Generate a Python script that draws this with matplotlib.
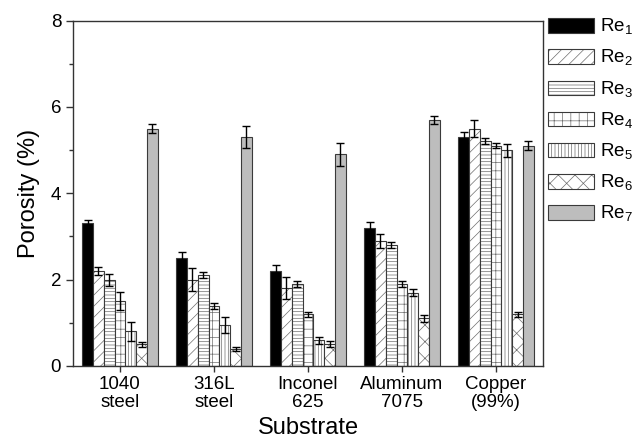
import matplotlib
matplotlib.use('Agg')
import matplotlib.pyplot as plt
from matplotlib.colors import to_rgba
import numpy as np

plt.rcParams['font.family'] = ['Liberation Sans', 'DejaVu Sans']
plt.rcParams['hatch.linewidth'] = 0.5

# Пористость по подложкам
substrates = ['1040\nsteel', '316L\nsteel', 'Inconel\n625', 'Aluminum\n7075', 'Copper\n(99%)']
series = ['Re$_\\mathregular{1}$', 'Re$_\\mathregular{2}$', 'Re$_\\mathregular{3}$', 'Re$_\\mathregular{4}$',
          'Re$_\\mathregular{5}$', 'Re$_\\mathregular{6}$', 'Re$_\\mathregular{7}$']

re1 = [3.3, 2.5, 2.2, 3.2, 5.3]
re2 = [2.2, 2.0, 1.8, 2.9, 5.5]
re3 = [2.0, 2.1, 1.9, 2.8, 5.2]
re4 = [1.5, 1.4, 1.2, 1.9, 5.1]
re5 = [0.8, 0.95, 0.6, 1.7, 5.0]
re6 = [0.5, 0.4, 0.5, 1.1, 1.2]
re7 = [5.5, 5.3, 4.9, 5.7, 5.1]

err1 = [0.07, 0.14, 0.13, 0.14, 0.13]
err2 = [0.10, 0.26, 0.25, 0.16, 0.19]
err3 = [0.14, 0.07, 0.07, 0.06, 0.07]
err4 = [0.21, 0.07, 0.06, 0.06, 0.06]
err5 = [0.21, 0.18, 0.08, 0.09, 0.15]
err6 = [0.05, 0.05, 0.07, 0.07, 0.06]
err7 = [0.10, 0.25, 0.27, 0.10, 0.10]

values = [re1, re2, re3, re4, re5, re6, re7]
errors = [err1, err2, err3, err4, err5, err6, err7]

fills = ['black', 'white', 'white', 'white', 'white', 'white', '#bdbdbd']
hatches = [None, '///', '-----', '++', '|||||', 'xx', None]

fig = plt.figure(figsize=(6.33, 4.44), dpi=100)
ax = fig.add_axes([0.1153, 0.1757, 0.7425, 0.778])

x = np.arange(1, len(substrates) + 1)
w = 0.1145
for k in range(7):
    pos = x + (k - 3) * w
    bars = ax.bar(pos, values[k], w, color=fills[k], edgecolor='#3a3a3a', linewidth=0.8,
                  hatch=hatches[k], label=series[k], zorder=2)
    # штриховка светлее контура
    for b in bars:
        b._hatch_color = to_rgba('#6e6e6e')
    ax.errorbar(pos, values[k], yerr=errors[k], fmt='none', ecolor='black',
                elinewidth=1.0, capsize=3, capthick=1.0, zorder=3)

ax.set_xlim(0.5, 5.5)
ax.set_ylim(0, 8)
ax.set_xticks(x)
ax.set_xticklabels(substrates, fontsize=13.5, linespacing=1.1)
ax.set_yticks([0, 2, 4, 6, 8])
ax.set_yticks([1, 3, 5, 7], minor=True)
ax.tick_params(axis='y', which='major', labelsize=13.5, length=5, width=1, color='#333333')
ax.tick_params(axis='y', which='minor', length=3, width=1, color='#333333')
ax.tick_params(axis='x', length=4, width=1, color='#333333', pad=3)
for s in ax.spines.values():
    s.set_color('#333333')
    s.set_linewidth(1.0)

ax.set_ylabel('Porosity (%)', fontsize=17, labelpad=8)
ax.set_xlabel('Substrate', fontsize=17, labelpad=4)

fig.legend(loc='upper left', bbox_to_anchor=(548 / 633, 1 - 17 / 444), frameon=False,
           fontsize=13.5, handlelength=2.45, handleheight=0.8, labelspacing=0.58,
           handletextpad=0.35, borderpad=0, borderaxespad=0)

fig.savefig('out.png', dpi=100)
